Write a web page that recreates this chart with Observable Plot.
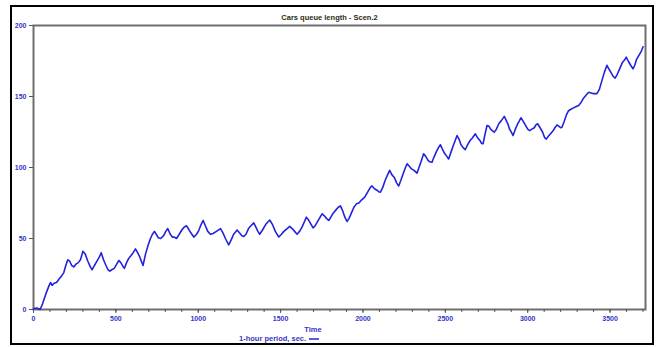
<!DOCTYPE html>
<html>
<head>
<meta charset="utf-8">
<script src="https://cdn.jsdelivr.net/npm/d3@7"></script>
<script src="https://cdn.jsdelivr.net/npm/@observablehq/plot@0.6"></script>
<style>
  html, body { margin: 0; padding: 0; background: #fff; }
  #wrap { position: relative; width: 659px; height: 347px; overflow: hidden; }
  #border { position: absolute; left: 10px; top: 5px; width: 640px; height: 336px; border: 2px solid #000; }
  .txt { position: absolute; font-family: "Liberation Sans", Arial, sans-serif; font-weight: bold; font-size: 7.5px; line-height: 9px; white-space: nowrap; }
  #title { left: 0; width: 659px; top: 13px; text-align: center; color: #2a2a12; }
  #xlabel { left: 0; width: 626px; top: 325px; text-align: center; color: #3434c8; }
  #legend { left: 239px; top: 334px; color: #3434c8; }
  #legend svg { vertical-align: middle; margin-left: 3px; }
  #chart { position: absolute; left: 0; top: 0; }
</style>
</head>
<body>
<div id="wrap">
  <div id="border"></div>
  <div id="chart"></div>
  <div id="title" class="txt">Cars queue length - Scen.2</div>
  <div id="xlabel" class="txt">Time</div>
  <div id="legend" class="txt">1-hour period, sec.<svg width="10" height="4"><line x1="0" x2="10" y1="2" y2="2" stroke="#2222dd" stroke-width="1.5"/></svg></div>
</div>
<script>
// Simulation time, seconds
const time = [
  0, 20, 40, 55, 75, 95, 103, 113, 125, 140, 155, 170, 184, 196, 208, 220, 232, 245, 258, 272,
  285, 300, 314, 330, 345, 356, 370, 385, 400, 411, 425, 440, 452, 463, 475, 490, 505, 518, 530, 545,
  552, 565, 578, 592, 605, 619, 632, 645, 658, 665, 680, 695, 710, 722, 734, 745, 758, 772, 790, 803,
  815, 830, 843, 855, 868, 885, 900, 915, 928, 940, 955, 973, 990, 1003, 1018, 1030, 1043, 1058, 1074, 1090,
  1110, 1135, 1150, 1165, 1185, 1200, 1215, 1236, 1250, 1265, 1276, 1290, 1305, 1320, 1337, 1350, 1362, 1373, 1390, 1410,
  1434, 1450, 1468, 1489, 1505, 1520, 1540, 1555, 1570, 1585, 1600, 1615, 1630, 1645, 1656, 1670, 1685, 1697, 1710, 1725,
  1740, 1752, 1765, 1780, 1792, 1805, 1820, 1835, 1850, 1863, 1875, 1890, 1903, 1915, 1930, 1945, 1960, 1975, 1990, 2005,
  2015, 2030, 2045, 2055, 2070, 2085, 2095, 2106, 2120, 2135, 2150, 2162, 2175, 2190, 2205, 2217, 2230, 2245, 2258, 2268,
  2280, 2295, 2310, 2328, 2340, 2355, 2368, 2380, 2395, 2405, 2419, 2430, 2445, 2458, 2470, 2482, 2495, 2508, 2520, 2535,
  2550, 2560, 2571, 2583, 2595, 2608, 2621, 2635, 2650, 2665, 2682, 2695, 2710, 2720, 2729, 2740, 2753, 2765, 2775, 2785,
  2797, 2810, 2825, 2840, 2858, 2870, 2882, 2890, 2900, 2911, 2925, 2940, 2950, 2959, 2970, 2985, 3000, 3012, 3025, 3040,
  3050, 3060, 3075, 3090, 3103, 3113, 3125, 3140, 3155, 3165, 3178, 3190, 3200, 3208, 3220, 3235, 3248, 3262, 3278, 3295,
  3309, 3325, 3340, 3355, 3370, 3385, 3400, 3410, 3420, 3435, 3450, 3465, 3481, 3495, 3510, 3520, 3531, 3545, 3560, 3575,
  3590, 3598, 3610, 3625, 3639, 3650, 3660, 3675, 3690, 3700
];

// Number of cars waiting in the queue
const queue = [
  0.5, 1, 0, 4, 11, 17, 19, 17, 18.5, 19, 21.5, 23.5, 26, 31, 35, 34, 31, 30, 32, 33,
  35, 41, 39, 34, 30, 28, 31, 34, 37, 40, 35, 31, 28, 27, 28, 29, 32, 34.5, 33, 30,
  29, 33, 36, 38, 40, 42.7, 40, 37, 33, 31, 39, 45, 50, 53, 55, 53, 50.5, 50, 52, 55,
  57, 53, 51, 51, 50, 53, 56, 58, 59, 57, 54, 51, 53, 55.6, 60, 62.7, 59, 55, 53, 53.5,
  55, 57, 54, 50, 45.5, 49, 53, 56, 54, 52, 51.4, 53, 57, 59, 61, 58, 55, 53, 56, 60,
  63, 60, 55, 51, 53, 55, 57, 58.5, 57, 55, 53, 55, 58, 62, 65, 63, 60, 57.5, 59, 62,
  65, 67.4, 66, 64, 62.7, 65, 68, 70, 72, 73, 70, 65, 62, 64, 68, 72, 74.4, 75, 77, 78.5,
  80, 83, 86, 87, 85, 84, 83, 82.6, 86, 91, 95, 98, 95, 93, 89, 87, 91, 96, 100, 102.6,
  101, 99, 98, 96, 100, 105, 109.6, 108, 105, 104, 103.7, 107, 111, 114, 116, 113, 110, 108, 106, 111,
  116, 119, 122.5, 120, 116, 114, 112.5, 116, 119, 121, 123.7, 121, 119, 117, 116.7, 123, 129.6, 129, 127, 126,
  124.9, 127, 131, 133, 136, 133, 130, 127, 125, 122.5, 127, 131, 133, 135, 133, 130, 127, 126, 127, 128,
  130, 130.8, 128, 125, 121, 120, 122, 124, 126, 128, 130, 129, 128, 128.4, 132, 137, 140, 141, 142, 143,
  143.7, 146, 149, 151, 153, 152.5, 152, 152, 152, 155, 161, 167, 172, 169, 166, 164, 163, 166, 170, 174,
  176, 177.7, 175, 172, 169.5, 172, 176, 179, 182, 185
];

const yTicks = [0, 50, 100, 150, 200];
const xTickLabels = [0, 500, 1000, 1500, 2000, 2500, 3000, 3500];
const xMinorTicks = d3.range(0, 3701, 100);

const series = time.map((t, i) => ({t, q: queue[i]}));

const chart = Plot.plot({
  width: 659,
  height: 347,
  marginLeft: 33,
  marginRight: 14,
  marginTop: 25,
  marginBottom: 38,
  style: {fontFamily: "Liberation Sans, Arial, sans-serif", fontSize: "7px", fontWeight: "bold", background: "transparent"},
  x: {domain: [0, 3715]},
  y: {domain: [0, 200]},
  marks: [
    Plot.frame({stroke: "#6e6e6e", strokeWidth: 2}),
    Plot.axisY({ticks: yTicks, tickSize: 4, tickPadding: 3, stroke: "#555", fill: "#3434c8", tickFormat: d => String(d), label: null}),
    Plot.axisX({ticks: xMinorTicks, tickSize: 3, stroke: "#555", tickFormat: () => "", label: null}),
    Plot.axisX({ticks: xTickLabels, tickSize: 4, tickPadding: 3, stroke: "#555", fill: "#3434c8", tickFormat: d => String(d), label: null}),
    Plot.line(series, {x: "t", y: "q", stroke: "#2222dd", strokeWidth: 1.6})
  ]
});
document.getElementById("chart").appendChild(chart);
</script>
</body>
</html>
